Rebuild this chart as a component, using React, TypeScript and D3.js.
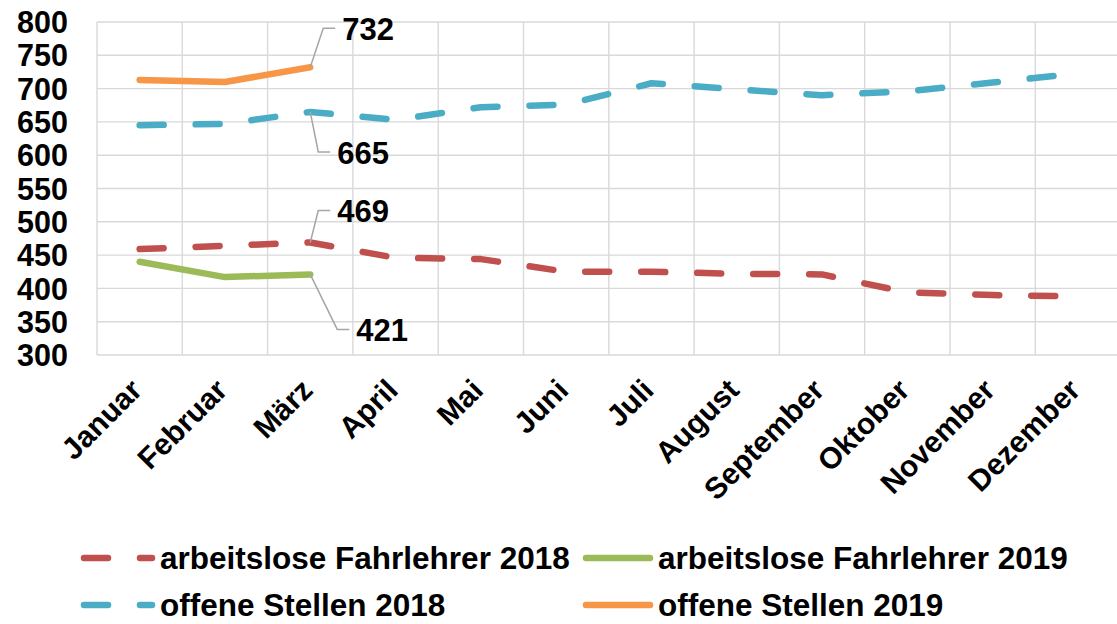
import React, { useRef, useEffect } from 'react';
import * as d3 from 'd3';

// Monate und Werte
const monate = ["Januar", "Februar", "März", "April", "Mai", "Juni", "Juli", "August", "September", "Oktober", "November", "Dezember"];
const arbeitslose2018 = [459, 464, 469, 446, 444, 425, 425, 422, 421, 394, 390, 388];
const arbeitslose2019 = [440, 417, 421];
const offene2018 = [645, 647, 665, 653, 672, 676, 708, 699, 690, 696, 709, 723];
const offene2019 = [713, 710, 732];
const yTicks = [300, 350, 400, 450, 500, 550, 600, 650, 700, 750, 800];

const serien = [
  { name: "arbeitslose Fahrlehrer 2018", werte: arbeitslose2018, farbe: "#C0504D", dash: true },
  { name: "arbeitslose Fahrlehrer 2019", werte: arbeitslose2019, farbe: "#9BBB59", dash: false },
  { name: "offene Stellen 2018", werte: offene2018, farbe: "#4BACC6", dash: true },
  { name: "offene Stellen 2019", werte: offene2019, farbe: "#F79646", dash: false },
];

// Beschriftete Punkte (März)
const labels = [
  { serie: 3, idx: 2, ex: 13, ey: -39, len: 12 },
  { serie: 2, idx: 2, ex: 8, ey: 40, len: 12 },
  { serie: 0, idx: 2, ex: 8, ey: -32, len: 12 },
  { serie: 1, idx: 2, ex: 27, ey: 55, len: 12 },
];

const W = 1117, H = 624;
const margin = { top: 22, left: 97, plotRight: 1120.6, bottom: 355 };
const FONT = "'Liberation Sans', Arial, sans-serif";
const DASH = "24 32";

const App = () => {
  const ref = useRef(null);

  useEffect(() => {
    const svg = d3.select(ref.current);
    svg.selectAll("*").remove();

    const x = d3.scaleBand().domain(monate).range([margin.left, margin.plotRight]);
    const y = d3.scaleLinear().domain([300, 800]).range([margin.bottom, margin.top]);
    const cx = (i) => x(monate[i]) + x.bandwidth() / 2;

    // Gitter
    const grid = svg.append("g").attr("stroke", "#d9d9d9").attr("stroke-width", 1.4);
    grid.selectAll(".h").data(yTicks).enter().append("line")
      .attr("x1", margin.left).attr("x2", margin.plotRight)
      .attr("y1", d => y(d)).attr("y2", d => y(d));
    const grenzen = monate.map(m => x(m)).concat([margin.plotRight]);
    grid.selectAll(".v").data(grenzen).enter().append("line")
      .attr("x1", d => d).attr("x2", d => d)
      .attr("y1", y(800)).attr("y2", y(300));

    // Y-Achse
    const yAxis = svg.append("g")
      .attr("transform", `translate(${margin.left},0)`)
      .call(d3.axisLeft(y).tickValues(yTicks).tickSize(0).tickPadding(29));
    yAxis.select(".domain").remove();
    yAxis.selectAll(".tick text")
      .attr("font-family", FONT).attr("font-weight", "bold").attr("font-size", 30.5)
      .attr("fill", "#000").attr("dy", "0.35em");

    // X-Achse
    const xAxis = svg.append("g")
      .attr("transform", `translate(0,${margin.bottom})`)
      .call(d3.axisBottom(x).tickSize(0));
    xAxis.select(".domain").remove();
    xAxis.selectAll(".tick text")
      .attr("font-family", FONT).attr("font-weight", "bold").attr("font-size", 30)
      .attr("fill", "#000")
      .attr("text-anchor", "end")
      .attr("y", 0).attr("dy", 0)
      .attr("transform", "translate(4,37) rotate(-45)");

    // Linien
    const line = d3.line().x((d, i) => cx(i)).y(d => y(d));
    serien.forEach(s => {
      svg.append("path")
        .attr("d", line(s.werte))
        .attr("fill", "none")
        .attr("stroke", s.farbe)
        .attr("stroke-width", 6.5)
        .attr("stroke-linecap", "round")
        .attr("stroke-linejoin", "round")
        .attr("stroke-dasharray", s.dash ? DASH : null);
    });

    // Datenbeschriftungen
    labels.forEach(l => {
      const s = serien[l.serie];
      const px = cx(l.idx), py = y(s.werte[l.idx]);
      const ex = px + l.ex, ey = py + l.ey;
      svg.append("polyline")
        .attr("points", `${px},${py} ${ex},${ey} ${ex + l.len},${ey}`)
        .attr("fill", "none").attr("stroke", "#a6a6a6").attr("stroke-width", 1.5);
      svg.append("text")
        .attr("x", ex + l.len + 7).attr("y", ey + 1)
        .attr("dy", "0.35em")
        .attr("font-family", FONT).attr("font-weight", "bold").attr("font-size", 31)
        .text(s.werte[l.idx]);
    });

    // Legende
    const legendPos = [
      { x: 84, y: 558 }, { x: 586, y: 558 }, { x: 84, y: 605 }, { x: 586, y: 605 },
    ];
    serien.forEach((s, i) => {
      const p = legendPos[i];
      const lx2 = p.x + (s.dash ? 68 : 64);
      const g = svg.append("g");
      g.append("line")
        .attr("x1", p.x).attr("x2", lx2).attr("y1", p.y).attr("y2", p.y)
        .attr("stroke", s.farbe).attr("stroke-width", 6.5)
        .attr("stroke-linecap", "round")
        .attr("stroke-dasharray", s.dash ? DASH : null);
      g.append("text")
        .attr("x", lx2 + 8).attr("y", p.y)
        .attr("dy", "0.35em")
        .attr("font-family", FONT).attr("font-weight", "bold").attr("font-size", 31.5)
        .text(s.name);
    });
  }, []);

  return (
    <svg ref={ref} width={W} height={H}
      style={{ position: "absolute", left: 0, top: 0, background: "#fff" }}></svg>
  );
};

export default App;
